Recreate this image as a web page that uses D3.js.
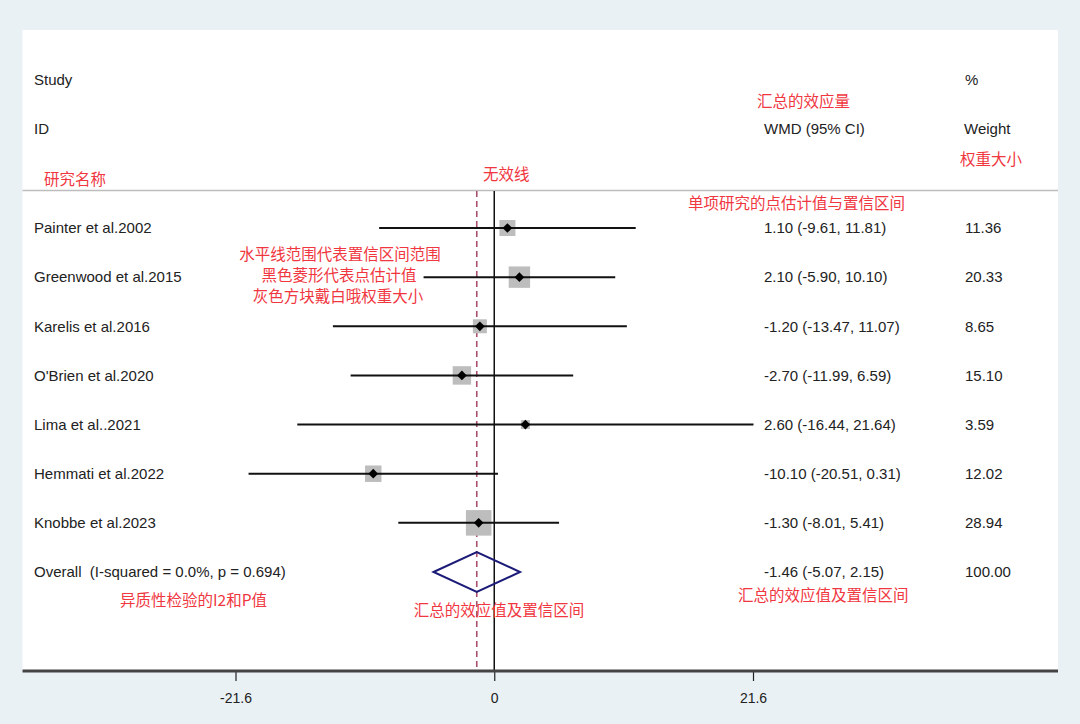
<!DOCTYPE html>
<html>
<head>
<meta charset="utf-8">
<script src="https://cdnjs.cloudflare.com/ajax/libs/d3/7.8.5/d3.min.js"></script>
<style>
  html, body { margin: 0; padding: 0; background: #e9f1f4; }
  #chart { width: 1080px; height: 724px; }
  .lbl { font-family: "Liberation Sans", Arial, sans-serif; font-size: 15px; fill: #222; white-space: pre; }
  .note { font-family: "Noto Sans CJK SC", sans-serif; font-size: 15.5px; fill: #f0373f; }
  .tick text { font-family: "Liberation Sans", Arial, sans-serif; font-size: 14px; fill: #222; }
</style>
</head>
<body>
<div id="chart"></div>
<script>
/*   DATA   */
const studies = ["Painter et al.2002", "Greenwood et al.2015", "Karelis et al.2016",
    "O'Brien et al.2020", "Lima et al..2021", "Hemmati et al.2022", "Knobbe et al.2023"];
const wmd    = [1.10, 2.10, -1.20, -2.70, 2.60, -10.10, -1.30];
const lower  = [-9.61, -5.90, -13.47, -11.99, -16.44, -20.51, -8.01];
const upper  = [11.81, 10.10, 11.07, 6.59, 21.64, 0.31, 5.41];
const weight = [11.36, 20.33, 8.65, 15.10, 3.59, 12.02, 28.94];

const overallLabel = "Overall  (I-squared = 0.0%, p = 0.694)";
const overall = {est: -1.46, lo: -5.07, hi: 2.15, w: 100.00};

const tickValues = [-21.6, 0, 21.6];

/*   SVG   */
const width = 1080, height = 724;
const svg = d3.select("#chart").append("svg")
    .attr("width", width)
    .attr("height", height);

const panel = {left: 22.5, right: 1058, top: 30, bottom: 671};

svg.append("rect")
    .attr("x", panel.left).attr("y", panel.top)
    .attr("width", panel.right - panel.left)
    .attr("height", panel.bottom - panel.top)
    .attr("fill", "#ffffff");

/*   SCALES   */
const xScale = d3.scaleLinear()
    .domain([-21.6, 21.6])
    .range([235.5, 753]);

const rows = studies.concat([overallLabel]);
const yScale = d3.scalePoint()
    .domain(rows)
    .range([228, 572]);

const sizeScale = d3.scaleSqrt()
    .domain([0, 30])
    .range([0, 26]);

// plain hyphen for negatives, as in the original
const locale = d3.formatLocale({decimal: ".", thousands: ",", grouping: [3], currency: ["", ""], minus: "-"});
const fmt = locale.format(".2f");
const fmtTick = locale.format(".1f");

/*   HEADERS   */
const hdr = [
    {t: "Study", x: 34, y: 80},
    {t: "ID", x: 34, y: 129},
    {t: "%", x: 965, y: 80},
    {t: "WMD (95% CI)", x: 764, y: 129},
    {t: "Weight", x: 964, y: 129}
];
svg.selectAll("text.hdr").data(hdr).enter().append("text")
    .attr("class", "lbl hdr")
    .attr("x", d => d.x).attr("y", d => d.y)
    .attr("dy", "0.35em")
    .text(d => d.t);

// header separator
svg.append("line")
    .attr("x1", panel.left).attr("x2", panel.right)
    .attr("y1", 190.5).attr("y2", 190.5)
    .attr("stroke", "#bdbdbd").attr("stroke-width", 1.5);

/*   REFERENCE LINES   */
svg.append("line")
    .attr("x1", xScale(0)).attr("x2", xScale(0))
    .attr("y1", 191).attr("y2", panel.bottom)
    .attr("stroke", "#111").attr("stroke-width", 1.5);

svg.append("line")
    .attr("x1", xScale(overall.est)).attr("x2", xScale(overall.est))
    .attr("y1", 191).attr("y2", panel.bottom)
    .attr("stroke", "#a8506c").attr("stroke-width", 1.6)
    .attr("stroke-dasharray", "6,4");

/*   STUDY ROWS   */
const data = studies.map((s, i) => ({
    name: s, est: wmd[i], lo: lower[i], hi: upper[i], w: weight[i]
}));

const row = svg.selectAll("g.row").data(data).enter().append("g")
    .attr("class", "row")
    .attr("transform", d => `translate(0,${yScale(d.name)})`);

row.append("rect")
    .attr("x", d => xScale(d.est) - sizeScale(d.w) / 2)
    .attr("y", d => -sizeScale(d.w) / 2)
    .attr("width", d => sizeScale(d.w))
    .attr("height", d => sizeScale(d.w))
    .attr("fill", "#bdbdbd");

row.append("line")
    .attr("x1", d => xScale(d.lo)).attr("x2", d => xScale(d.hi))
    .attr("stroke", "#111").attr("stroke-width", 2);

row.append("path")
    .attr("d", d3.symbol().type(d3.symbolDiamond2).size(60))
    .attr("transform", d => `translate(${xScale(d.est)},0)`)
    .attr("fill", "#000");

row.append("text").attr("class", "lbl")
    .attr("x", 34).attr("dy", "0.35em")
    .text(d => d.name);

row.append("text").attr("class", "lbl")
    .attr("x", 764).attr("dy", "0.35em")
    .text(d => `${fmt(d.est)} (${fmt(d.lo)}, ${fmt(d.hi)})`);

row.append("text").attr("class", "lbl")
    .attr("x", 965).attr("dy", "0.35em")
    .text(d => fmt(d.w));

/*   OVERALL   */
const oy = yScale(overallLabel);
svg.append("polygon")
    .attr("points", [
        [xScale(overall.lo), oy], [xScale(overall.est), oy - 20],
        [xScale(overall.hi), oy], [xScale(overall.est), oy + 20]
    ].map(p => p.join(",")).join(" "))
    .attr("fill", "none")
    .attr("stroke", "#1c1c78").attr("stroke-width", 2);

svg.append("text").attr("class", "lbl")
    .attr("x", 34).attr("y", oy).attr("dy", "0.35em")
    .text(overallLabel);
svg.append("text").attr("class", "lbl")
    .attr("x", 764).attr("y", oy).attr("dy", "0.35em")
    .text(`${fmt(overall.est)} (${fmt(overall.lo)}, ${fmt(overall.hi)})`);
svg.append("text").attr("class", "lbl")
    .attr("x", 965).attr("y", oy).attr("dy", "0.35em")
    .text(fmt(overall.w));

/*   AXIS   */
const xAxis = svg.append("g")
    .attr("transform", `translate(0,${panel.bottom})`)
    .call(d3.axisBottom(xScale).tickValues(tickValues).tickSize(10).tickPadding(12)
        .tickFormat(d => d === 0 ? "0" : fmtTick(d)));
xAxis.select(".domain").remove();
xAxis.selectAll(".tick line").attr("stroke", "#222").attr("stroke-width", 1.2);

svg.append("line")
    .attr("x1", panel.left).attr("x2", panel.right)
    .attr("y1", panel.bottom).attr("y2", panel.bottom)
    .attr("stroke", "#444").attr("stroke-width", 3);

/*   ANNOTATIONS   */
const notes = [
    {t: "研究名称", x: 44, y: 180, a: "start"},
    {t: "汇总的效应量", x: 757, y: 102, a: "start"},
    {t: "权重大小", x: 960, y: 160, a: "start"},
    {t: "无效线", x: 483, y: 175, a: "start"},
    {t: "单项研究的点估计值与置信区间", x: 688, y: 204, a: "start"},
    {t: "水平线范围代表置信区间范围", x: 340, y: 255, a: "middle"},
    {t: "黑色菱形代表点估计值", x: 339, y: 276, a: "middle"},
    {t: "灰色方块戴白哦权重大小", x: 338, y: 297, a: "middle"},
    {t: "异质性检验的I2和P值", x: 120, y: 601, a: "start"},
    {t: "汇总的效应值及置信区间", x: 499, y: 611, a: "middle"},
    {t: "汇总的效应值及置信区间", x: 738, y: 596, a: "start"}
];
svg.selectAll("text.note").data(notes).enter().append("text")
    .attr("class", "note")
    .attr("x", d => d.x).attr("y", d => d.y)
    .attr("dy", "0.35em")
    .attr("text-anchor", d => d.a)
    .text(d => d.t);
</script>
</body>
</html>
